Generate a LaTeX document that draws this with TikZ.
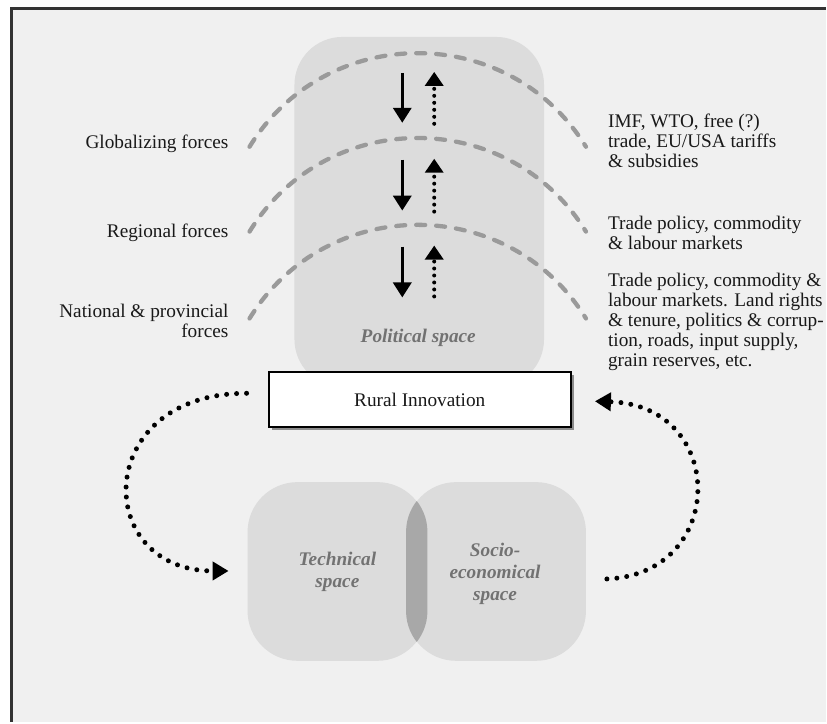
\documentclass[tikz,border=0pt]{standalone}
\usepackage{fontspec}
\setmainfont{Liberation Serif}
\usetikzlibrary{arrows.meta,shadows}
\definecolor{bggray}{HTML}{F0F0F0}
\definecolor{spacegray}{HTML}{DCDCDC}
\definecolor{lensgray}{HTML}{A8A8A8}
\definecolor{arcgray}{HTML}{9A9A9A}
\definecolor{labelgray}{HTML}{727272}
\definecolor{framegray}{HTML}{333333}
\begin{document}
\begin{tikzpicture}[x=1pt,y=-1pt,
  txt/.style={font=\fontsize{19.3pt}{20pt}\selectfont, inner sep=0pt, text=black!90},
  spacebox/.style={fill=spacegray, draw=none, inner sep=0pt},
  spacelabel/.style={font=\fontsize{19.3pt}{22pt}\selectfont\bfseries\itshape, text=labelgray, inner sep=0pt, align=center},
  forcearc/.style={draw=arcgray, line width=4.3pt, dash pattern=on 9pt off 11pt, line cap=round},
  downarr/.style={draw=black, line width=3.5pt, -{Triangle[width=18pt,length=15pt]}},
  uparr/.style={draw=black, line width=4pt, line cap=round, dash pattern=on 0pt off 7pt, -{Triangle[width=18pt,length=14pt]}},
  loopArr/.style={draw=black, line width=5pt, line cap=round, dash pattern=on 0pt off 10pt, -{Triangle[width=18pt,length=16pt]}},
  ribox/.style={draw=black, line width=2pt, fill=white, minimum width=303pt, minimum height=55pt, inner sep=0pt,
     drop shadow={shadow xshift=3pt, shadow yshift=-3pt, fill=black!45, opacity=1}},
]
% background and frame
\fill[white] (0,0) rectangle (827,723);
\fill[bggray] (10,7) rectangle (827,723);
\draw[framegray, line width=3pt] (11.5,723) -- (11.5,8.5) -- (827,8.5);
\useasboundingbox (0,0) rectangle (827,723);

% political space
\node[spacebox, rounded corners=48pt, minimum width=250pt, minimum height=351pt] (pol) at (420,212.5) {};
\node[spacelabel, anchor=base] (polL) at (419,343) {Political space};

% force arcs
\draw[forcearc] (250,147) .. controls (327,22) and (510,22) .. (587,147);
\draw[forcearc] (250,232) .. controls (327,107) and (510,107) .. (587,232);
\draw[forcearc] (250,319) .. controls (327,194) and (510,194) .. (587,319);

% arrows inside political space
\coordinate (d1a) at (403,73);  \coordinate (d1b) at (403,123);
\coordinate (u1a) at (435,124); \coordinate (u1b) at (435,72);
\coordinate (d2a) at (403,160); \coordinate (d2b) at (403,211);
\coordinate (u2a) at (435,212); \coordinate (u2b) at (435,159);
\coordinate (d3a) at (403,247); \coordinate (d3b) at (403,298);
\coordinate (u3a) at (435,297); \coordinate (u3b) at (435,246);
\draw[downarr] (d1a) -- (d1b);
\draw[uparr] (u1a) -- (u1b);
\draw[downarr] (d2a) -- (d2b);
\draw[uparr] (u2a) -- (u2b);
\draw[downarr] (d3a) -- (d3b);
\draw[uparr] (u3a) -- (u3b);

% left labels
\node[txt, anchor=base east] (glob) at (229,149) {Globalizing forces};
\node[txt, anchor=base east] (reg) at (229,238) {Regional forces};
\node[txt, anchor=east, align=right] (nat) at (229,321.5) {National \& provincial\\forces};

% right labels
\node[txt, anchor=west, align=left] (imf) at (609,141.3) {IMF, WTO, free (?)\\trade, EU/USA tariffs\\\& subsidies};
\node[txt, anchor=west, align=left] (trade1) at (609,233.4) {Trade policy, commodity\\\& labour markets};
\node[txt, anchor=west, align=left] (trade2) at (609,322.5) {Trade policy, commodity \&\\labour markets. Land rights\\\& tenure, politics \& corrup-\\tion, roads, input supply,\\grain reserves, etc.};

% rural innovation
\node[ribox, txt] (ri) at (420.5,400.5) {Rural Innovation};

% technical and socio-economical spaces
\node[spacebox, rounded corners=50pt, minimum width=180pt, minimum height=179pt] (tech) at (338,572.5) {};
\node[spacebox, rounded corners=50pt, minimum width=180pt, minimum height=179pt] (soc) at (497,572.5) {};
\begin{scope}
  \clip[rounded corners=50pt] (tech.north west) rectangle (tech.south east);
  \fill[lensgray, rounded corners=50pt] (soc.north west) rectangle (soc.south east);
\end{scope}
\node[spacelabel] (techL) at (338,573) {Technical\\space};
\node[spacelabel] (socL) at (496,575) {Socio-\\economical\\space};

% feedback loops
\coordinate (l1s) at (247,394); \coordinate (l1e) at (229,572);
\draw[loopArr] (l1s) .. controls (92,394) and (92,572) .. (l1e);
\coordinate (r1s) at (608,580); \coordinate (r1e) at (596,402);
\draw[loopArr] (r1s) .. controls (729,575) and (729,406) .. (r1e);
\end{tikzpicture}
\end{document}
